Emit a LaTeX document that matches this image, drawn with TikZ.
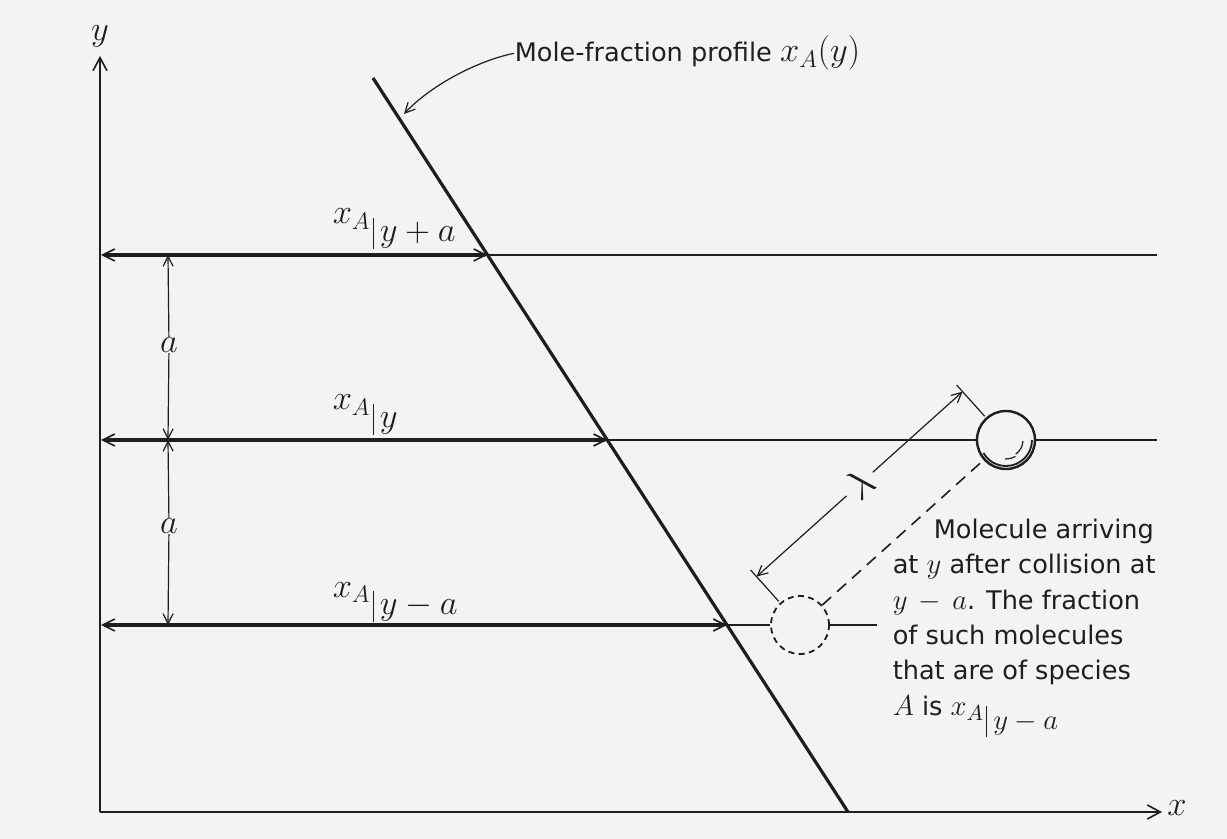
\documentclass[tikz,border=0pt]{standalone}
\usepackage{fontspec}
\usetikzlibrary{arrows.meta,calc}
\newfontfamily\capfont{DejaVu Sans}
\definecolor{paper}{RGB}{243,243,241}
\definecolor{ink}{RGB}{30,30,30}
% x_A evaluated at a level: bar depth, lowering, level
\newcommand{\xAat}[3]{$x_A$\hspace{1pt}\rule[-#1]{0.6pt}{15.5pt}\hspace{3pt}\raisebox{-#2}{$#3$}}
\newcommand{\mth}[1]{{\fontsize{15}{17.7}\selectfont$#1$}}
\tikzset{every picture/.style={line width=0.75pt}}

\begin{document}
\begin{tikzpicture}[x=0.5pt,y=0.5pt,yscale=-1,xscale=1,color=ink,
  axis/.style={line width=1pt,-{Straight Barb[length=6.5pt,width=7pt,line width=0.8pt]}},
  thinln/.style={line width=0.8pt},
  fatarr/.style={line width=1.7pt,{Straight Barb[length=6pt,width=6pt,line width=0.8pt]}-{Straight Barb[length=6pt,width=6pt,line width=0.8pt]}},
  dimarr/.style={line width=0.6pt,-{Straight Barb[length=5pt,width=5pt]}},
  mlabel/.style={inner sep=0pt,font=\fontsize{16.5}{18}\selectfont},
  caption/.style={inner sep=0pt,font=\capfont\fontsize{12.8}{17.7}\selectfont},
  molecule/.style={circle,draw,inner sep=0pt,minimum size=29pt}]
\path[use as bounding box,fill=paper] (0,0) rectangle (1227,839);

% points
\coordinate (O) at (100,812);
\coordinate (yEnd) at (100,56);
\coordinate (xEnd) at (1162,812);
\coordinate (pTop) at (373,78);
\coordinate (pBot) at (848,812);
\coordinate (pHit) at (404,114);
\coordinate (l1) at (101,255);
\coordinate (l2) at (101,440);
\coordinate (l3) at (101,625);
\coordinate (c1) at (487.5,255);
\coordinate (c2) at (607.3,440);
\coordinate (c3) at (727,625);
\coordinate (r1) at (1157,255);
\coordinate (r2) at (1157,440);
\coordinate (r3) at (877,625);
\coordinate (v1) at (168,255);
\coordinate (v2) at (168,440);
\coordinate (v3) at (168,625);

%Shape: Circle
\node[molecule,line width=1.2pt] (mnew) at (1006,440) {};
\draw[line width=0.9pt] ($(mnew)+(26,0)$) arc (0:150:26);
\draw[line width=0.6pt] ($(mnew)+(17,1)$) arc (3:55:17);
\draw[line width=0.6pt] ($(mnew)+(-1,19)$) arc (93:60:19);
%Shape: Circle
\node[molecule,dashed,dash pattern=on 3pt off 2.2pt,line width=0.9pt] (mold) at (800,625) {};

%Straight Lines
\draw[axis] (O) -- (yEnd);
\draw[axis] (O) -- (xEnd);
\draw[line width=1.6pt] (pTop) -- (pBot);
%Straight Lines
\draw[fatarr] (l1) -- (c1);
\draw[thinln] (c1) -- (r1);
\draw[fatarr] (l2) -- (c2);
\draw[thinln] (c2) -- (mnew);
\draw[thinln] (mnew) -- (r2);
\draw[fatarr] (l3) -- (c3);
\draw[thinln] (c3) -- (mold);
\draw[thinln] (mold) -- (r3);
%Straight Lines
\draw[dashed,dash pattern=on 6pt off 4pt,line width=0.8pt] (mold) -- (mnew);

% mean free path
\coordinate (e1) at ($(mold)!16pt!-90:(mnew)$);
\coordinate (f1) at ($(mold)!37pt!-90:(mnew)$);
\coordinate (d1) at ($(mold)!32.5pt!-90:(mnew)$);
\coordinate (e2) at ($(mnew)!16pt!90:(mold)$);
\coordinate (f2) at ($(mnew)!37pt!90:(mold)$);
\coordinate (d2) at ($(mnew)!32.5pt!90:(mold)$);
\draw[line width=0.6pt] (e1) -- (f1);
\draw[line width=0.6pt] (e2) -- (f2);
\node[mlabel,rotate=42,inner sep=2.5pt,font=\fontsize{20}{22}\selectfont] (lam) at ($(d1)!0.5!(d2)$) {$\lambda$};
\draw[dimarr] (lam) -- (d1);
\draw[dimarr] (lam) -- (d2);

% Text Node
\node[mlabel] (a1) at (169,345) {$a$};
\draw[dimarr] (a1) -- (v1);
\draw[dimarr] (a1) -- (v2);
% Text Node
\node[mlabel] (a2) at (169,526) {$a$};
\draw[dimarr] (a2) -- (v2);
\draw[dimarr] (a2) -- (v3);

% Text Node
\node[mlabel,anchor=base west] (lev1) at (332,224) {\xAat{12.5pt}{9pt}{y+a}};
% Text Node
\node[mlabel,anchor=base west] (lev2) at (332,410) {\xAat{12.5pt}{9pt}{y}};
% Text Node
\node[mlabel,anchor=base west] (lev3) at (332,597) {\xAat{12.5pt}{9pt}{y-a}};
% Text Node
\node[mlabel] (ylab) at (100,36) {$y$};
% Text Node
\node[mlabel] (xlab) at (1177,808) {$x$};

% Text Node
\node[caption,anchor=base west] (mfp) at (514,62) {Mole-fraction profile {\fontsize{16.5}{18}\selectfont$x_A(y)$}};
\draw[dimarr] (mfp.west) .. controls (480,60) and (432,84) .. (pHit);

% Text Node
\node[caption,anchor=north west,align=left] (note) at (892,518) {\hspace*{20.5pt}Molecule arriving\\at \mth{y} after collision at\\\mth{y\,-\,a}. The fraction\\of such molecules\\that are of species\\\mth{A} is {\fontsize{15}{17.7}\selectfont\xAat{11pt}{7pt}{y-a}}};

\end{tikzpicture}
\end{document}
